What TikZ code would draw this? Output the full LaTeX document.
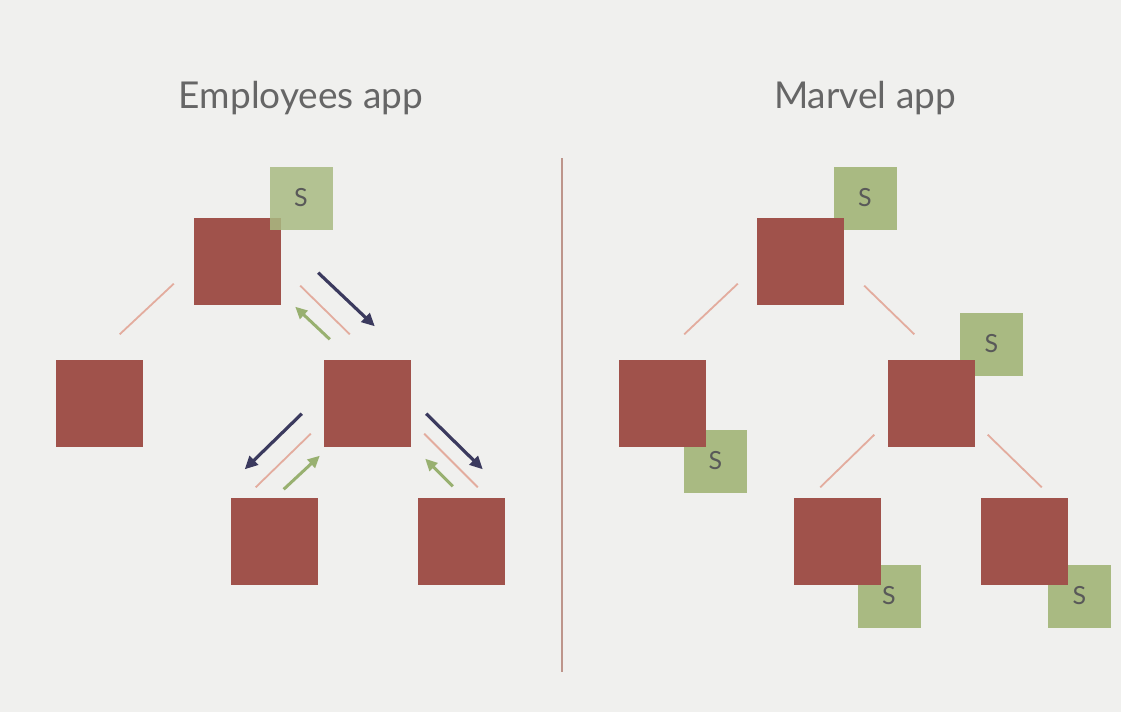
\documentclass[tikz,border=0pt]{standalone}
\usepackage{fontspec}
\setmainfont{Lato}
\usetikzlibrary{arrows.meta}

\definecolor{bgcol}{HTML}{F0F0EE}
\definecolor{boxred}{HTML}{A0524B}
\definecolor{boxgreen}{HTML}{A9BA82}
\definecolor{linkpink}{HTML}{E3AC9E}
\definecolor{arrowdark}{HTML}{3B3A5E}
\definecolor{arrowgreen}{HTML}{98B070}
\definecolor{titlegrey}{HTML}{666666}

\begin{document}
\begin{tikzpicture}[x=1pt, y=-1pt,
  comp/.style = {shape=rectangle, fill=boxred, minimum size=87pt, inner sep=0pt},
  sbox/.style = {shape=rectangle, fill=boxgreen, minimum size=63pt,
    inner sep=0pt, text=black!65, font=\fontsize{25}{25}\selectfont},
  link/.style = {draw=linkpink, line width=1.8pt},
  down/.style = {draw=arrowdark, line width=3.2pt,
    -{Triangle[length=13pt,width=12pt]}},
  up/.style = {draw=arrowgreen, line width=3pt,
    -{Triangle[length=12pt,width=11pt]}},
  title/.style = {text=titlegrey, font=\fontsize{37}{37}\selectfont}]

  \fill[bgcol] (0,0) rectangle (1121,712);
  \useasboundingbox (0,0) rectangle (1121,712);

  \node[title] (eTitle) at (301,98) {Employees app};
  \node[title] (mTitle) at (865,98) {Marvel app};

  \coordinate (divTop) at (562,158);
  \coordinate (divBot) at (562,672);
  \draw[draw=linkpink!80!black!90, line width=1.6pt] (divTop) -- (divBot);

  % Employees app
  \node[comp] (eRoot) at (237.5,261) {};
  \node[sbox, fill opacity=0.85, text opacity=1] (eS) at (301,198) {S};
  \node[comp] (eLeft) at (99,403) {};
  \node[comp] (eMid) at (367.5,403) {};
  \node[comp] (eBL) at (274,541) {};
  \node[comp] (eBR) at (461.5,541) {};

  \draw[link] ([shift={(-20,-21)}]eRoot.south west) -- ([shift={(-23,-25)}]eLeft.north east);
  \draw[link] ([shift={(19,-19)}]eRoot.south east) -- ([shift={(26,-25)}]eMid.north west);
  \draw[link] ([shift={(-13,-13)}]eMid.south west) -- ([shift={(-62,-10)}]eBL.north east);
  \draw[link] ([shift={(13,-13)}]eMid.south east) -- ([shift={(60,-10)}]eBR.north west);

  \draw[down] ([shift={(37,-32)}]eRoot.south east) -- ([shift={(51,-33)}]eMid.north west);
  \draw[down] ([shift={(-22,-33)}]eMid.south west) -- ([shift={(-73,-28)}]eBL.north east);
  \draw[down] ([shift={(15,-33)}]eMid.south east) -- ([shift={(65,-28)}]eBR.north west);

  \draw[up] ([shift={(6,-20)}]eMid.north west) -- ([shift={(14,2)}]eRoot.south east);
  \draw[up] ([shift={(-34,-8)}]eBL.north east) -- ([shift={(-4,9)}]eMid.south west);
  \draw[up] ([shift={(35,-11)}]eBR.north west) -- ([shift={(14,12)}]eMid.south east);

  % Marvel app
  \node[sbox] (mS) at (865,198) {S};
  \node[sbox] (mMidS) at (991.5,344) {S};
  \node[sbox] (mLeftS) at (715.5,461) {S};
  \node[sbox] (mBLS) at (889,596) {S};
  \node[sbox] (mBRS) at (1079.5,596) {S};
  \node[comp] (mRoot) at (800.5,261) {};
  \node[comp] (mLeft) at (662.5,403) {};
  \node[comp] (mMid) at (931,403) {};
  \node[comp] (mBL) at (837.5,541) {};
  \node[comp] (mBR) at (1024.5,541) {};

  \draw[link] ([shift={(-19,-21)}]mRoot.south west) -- ([shift={(-22,-25)}]mLeft.north east);
  \draw[link] ([shift={(20,-19)}]mRoot.south east) -- ([shift={(27,-25)}]mMid.north west);
  \draw[link] ([shift={(-13,-12)}]mMid.south west) -- ([shift={(-61,-10)}]mBL.north east);
  \draw[link] ([shift={(13,-12)}]mMid.south east) -- ([shift={(61,-10)}]mBR.north west);

\end{tikzpicture}
\end{document}
